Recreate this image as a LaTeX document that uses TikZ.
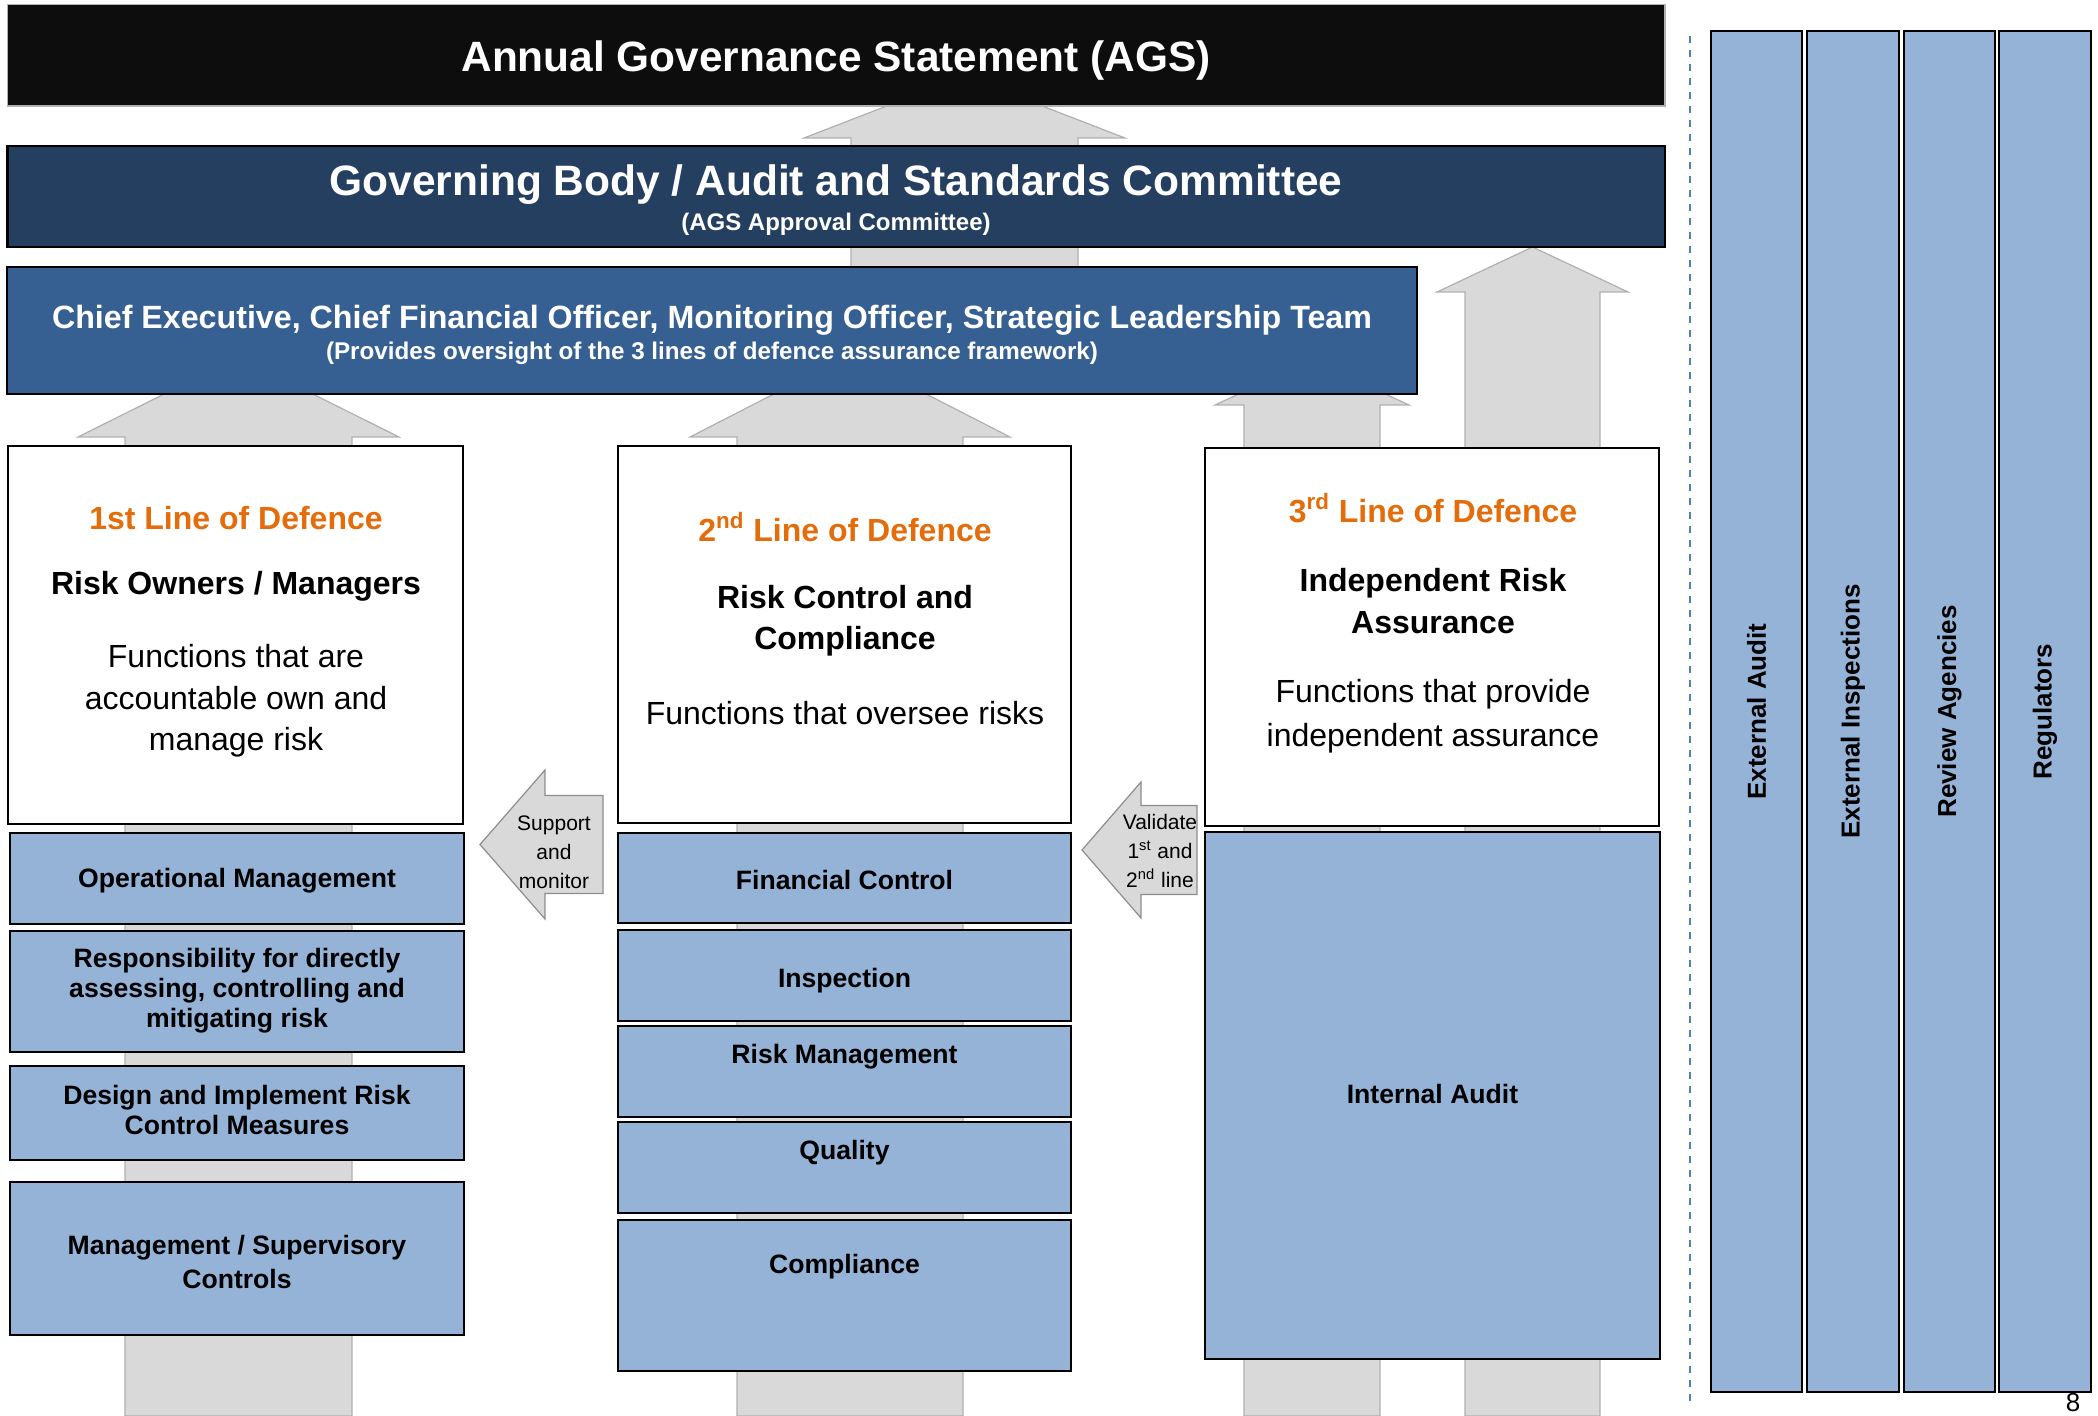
\documentclass[tikz,border=0pt]{standalone}
\usepackage{fontspec}
\setmainfont{Liberation Sans}
\usetikzlibrary{fit}
\definecolor{agsblack}{HTML}{0D0D0D}
\definecolor{govblue}{HTML}{243F60}
\definecolor{ceoblue}{HTML}{376092}
\definecolor{lightblue}{HTML}{95B3D7}
\definecolor{arrowgray}{HTML}{D9D9D9}
\definecolor{arrowedge}{HTML}{B0B0B0}
\definecolor{orangetxt}{HTML}{E46C0A}
\definecolor{dashblue}{HTML}{4F81BD}
\newcommand\fsz[2]{\fontsize{#1pt}{#2pt}\selectfont}
% up block arrow: cx, tip y, head base y, head half width, shaft half width, bottom y
\newcommand\uparr[6]{%
  \filldraw[arrowbody] (#1,#2) -- ({#1+#4},#3) -- ({#1+#5},#3) -- ({#1+#5},#6)
    -- ({#1-#5},#6) -- ({#1-#5},#3) -- ({#1-#4},#3) -- cycle;}
% left block arrow: tip x, centre y, head back x, head half height, shaft half height, right x
\newcommand\leftarr[6]{%
  \filldraw[arrowbody, draw=arrowedge!80!black] (#1,#2) -- (#3,{#2-#4}) -- (#3,{#2-#5}) -- (#6,{#2-#5})
    -- (#6,{#2+#5}) -- (#3,{#2+#5}) -- (#3,{#2+#4}) -- cycle;}
\begin{document}
\begin{tikzpicture}[x=0.5pt,y=-0.5pt,
  arrowbody/.style={fill=arrowgray, draw=arrowedge, line width=0.6pt},
  frame/.style={draw=black, line width=1.3pt, inner sep=0pt},
  whitebox/.style={frame, fill=white},
  colbox/.style={frame, fill=lightblue},
  bluetxt/.style={font=\bfseries\fsz{13.3}{15}, align=center},
  coltxt/.style={font=\bfseries\fsz{13}{15}, rotate=90},
  heading/.style={font=\bfseries\fsz{16}{18}, text=orangetxt, align=center},
  title/.style={font=\bfseries\fsz{16}{20.7}, align=center},
  body/.style={font=\fsz{16}{20.75}, align=center},
  smalltxt/.style={font=\fsz{10.5}{14.5}, align=center}
]
\useasboundingbox (0,0) rectangle (2098,1416);

% grey upward block arrows (behind the boxes)
\uparr{964.5}{76}{138}{160.5}{113.5}{300}
\uparr{1532.5}{247}{292}{95.5}{67.5}{1416}
\uparr{1312}{360}{405}{97}{68}{1416}
\uparr{238.5}{357}{437}{160.5}{113.5}{1416}
\uparr{850}{355}{437}{160}{113}{1416}

% top bars
\node[fit={(7.6,4.7)(1665,106)}, fill=agsblack, draw=gray!60, line width=0.8pt, inner sep=0pt] (ags) {};
\node[font=\bfseries\fsz{21.2}{24}, text=white] (agst) at (836,61) {Annual Governance Statement (AGS)};

\node[fit={(7.6,146)(1665,247)}, frame, fill=govblue] (gov) {};
\node[font=\bfseries\fsz{21.25}{24}, text=white] (govt) at (836,185) {Governing Body / Audit and Standards Committee};
\node[font=\bfseries\fsz{12}{14}, text=white] (govs) at (836,224) {(AGS Approval Committee)};

\node[fit={(7,267)(1417,394)}, frame, fill=ceoblue] (ceo) {};
\node[font=\bfseries\fsz{16.1}{18}, text=white] (ceot) at (712,320) {Chief Executive, Chief Financial Officer, Monitoring Officer, Strategic Leadership Team};
\node[font=\bfseries\fsz{12.1}{14}, text=white] (ceos) at (712,353) {(Provides oversight of the 3 lines of defence assurance framework)};

% lines of defence
\node[fit={(8,446)(463,824)}, whitebox] (l1) {};
\node[heading] (l1h) at (236,518) {1st Line of Defence};
\node[title] (l1t) at (236,586) {Risk Owners / Managers};
\node[body] (l1b) at (236,701) {Functions that are\\accountable own and\\manage risk};

\node[fit={(618,446)(1071,823)}, whitebox] (l2) {};
\node[heading] (l2h) at (845,527) {2\textsuperscript{nd} Line of Defence};
\node[title] (l2t) at (845,621) {Risk Control and\\Compliance};
\node[body] (l2b) at (845,713) {Functions that oversee risks};

\node[fit={(1205,448)(1659,826)}, whitebox] (l3) {};
\node[heading] (l3h) at (1433,508) {3\textsuperscript{rd} Line of Defence};
\node[title] (l3t) at (1433,601) {Independent Risk\\Assurance};
\node[body, font=\fsz{16}{22}] (l3b) at (1433,716) {Functions that provide\\independent assurance};

% column 1
\node[fit={(10,833)(464,924)}, colbox] (opm) {};
\node[bluetxt] (opmt) at (237,881) {Operational Management};
\node[fit={(10,931)(464,1052)}, colbox] (resp) {};
\node[bluetxt] (respt) at (237,991) {Responsibility for directly\\assessing, controlling and\\mitigating risk};
\node[fit={(10,1066)(464,1160)}, colbox] (design) {};
\node[bluetxt] (designt) at (237,1110) {Design and Implement Risk\\Control Measures};
\node[fit={(10,1182)(464,1335)}, colbox] (mgmt) {};
\node[bluetxt, font=\bfseries\fsz{13.3}{16.7}] (mgmtt) at (237,1262) {Management / Supervisory\\Controls};

% column 2
\node[fit={(618,833)(1071,923)}, colbox] (fin) {};
\node[bluetxt] (fint) at (844.5,880) {Financial Control};
\node[fit={(618,930)(1071,1021)}, colbox] (insp) {};
\node[bluetxt] (inspt) at (844.5,981) {Inspection};
\node[fit={(618,1026)(1071,1117)}, colbox] (riskm) {};
\node[bluetxt] (riskmt) at (844.5,1057) {Risk Management};
\node[fit={(618,1122)(1071,1213)}, colbox] (qual) {};
\node[bluetxt] (qualt) at (844.5,1153) {Quality};
\node[fit={(618,1220)(1071,1371)}, colbox] (compl) {};
\node[bluetxt] (complt) at (844.5,1267) {Compliance};

% column 3
\node[fit={(1205,832)(1660,1359)}, colbox] (ia) {};
\node[bluetxt] (iat) at (1432.5,1094) {Internal Audit};

% side arrows
\leftarr{480}{844.5}{545}{74.5}{49}{603}
\node[smalltxt] (supt) at (554,852) {Support\\and\\monitor};
\leftarr{1082}{850}{1141}{68}{44.5}{1197}
\node[smalltxt] (valt) at (1160,851) {Validate\\1\textsuperscript{st} and\\2\textsuperscript{nd} line};

% divider
\draw[dashblue, line width=1pt, dash pattern=on 3.5pt off 3.5pt] (1690,36) -- (1690,1405);

% external columns
\node[fit={(1711,31)(1802,1392)}, colbox] (ea) {};
\node[coltxt] (eat) at (ea.center) {External Audit};
\node[fit={(1807,31)(1899,1392)}, colbox] (ei) {};
\node[coltxt] (eit) at (ei.center) {External Inspections};
\node[fit={(1904,31)(1995,1392)}, colbox] (ra) {};
\node[coltxt] (rat) at (ra.center) {Review Agencies};
\node[fit={(1999,31)(2091,1392)}, colbox] (reg) {};
\node[coltxt] (regt) at (reg.center) {Regulators};

\node[font=\fsz{13}{15}] (pg) at (2073,1403) {8};
\end{tikzpicture}
\end{document}
